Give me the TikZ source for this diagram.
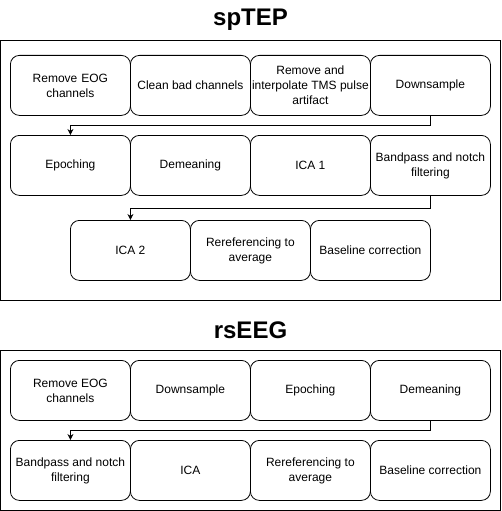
\documentclass[tikz,border=0pt]{standalone}
\usepackage{fontspec}
\setmainfont{Liberation Sans}
\usetikzlibrary{arrows.meta}
\begin{document}
\begin{tikzpicture}[x=1pt,y=-1pt,
  stepbox/.style={draw=black, line width=0.8pt, rounded corners=9pt, minimum width=120pt, minimum height=60pt, align=center, font=\fontsize{12}{15}\selectfont, inner sep=0pt, anchor=north west},
  frame/.style={draw=black, line width=0.8pt},
  title/.style={font=\fontsize{24}{28}\selectfont\bfseries},
  conn/.style={draw=black, line width=0.8pt, -{Stealth[length=6pt,width=6pt]}}
]
\useasboundingbox (0,0) rectangle (501,511);
% spTEP
\node[title] (t1) at (250.5,20) {spTEP};
\draw[frame] (0.5,40.5) rectangle (500.5,300.5);
\node[stepbox, text width=120pt, minimum width=120pt] (a1) at (10,55) {Remove EOG\\channels};
\node[stepbox] (a2) at (130,55) {Clean bad channels};
\node[stepbox] (a3) at (250,55) {Remove and\\interpolate TMS pulse\\artifact};
\node[stepbox] (a4) at (370,55) {Downsample};
\node[stepbox] (b1) at (10,135) {Epoching};
\node[stepbox] (b2) at (130,135) {Demeaning};
\node[stepbox] (b3) at (250,135) {ICA 1};
\node[stepbox] (b4) at (370,135) {Bandpass and notch\\filtering};
\node[stepbox] (c1) at (70,220) {ICA 2};
\node[stepbox] (c2) at (190,220) {Rereferencing to\\average};
\node[stepbox] (c3) at (310,220) {Baseline correction};
\draw[conn] (a4.south) -- ++(0,10) -| (b1.north);
\draw[conn] (b4.south) -- ++(0,13) -| (c1.north);
% rsEEG
\node[title] (t2) at (250.5,330) {rsEEG};
\draw[frame] (0.5,350.5) rectangle (500.5,510.5);
\node[stepbox] (d1) at (10,360) {Remove EOG\\channels};
\node[stepbox] (d2) at (130,360) {Downsample};
\node[stepbox] (d3) at (250,360) {Epoching};
\node[stepbox] (d4) at (370,360) {Demeaning};
\node[stepbox] (e1) at (10,440) {Bandpass and notch\\filtering};
\node[stepbox] (e2) at (130,440) {ICA};
\node[stepbox] (e3) at (250,440) {Rereferencing to\\average};
\node[stepbox] (e4) at (370,440) {Baseline correction};
\draw[conn] (d4.south) -- ++(0,10) -| (e1.north);
\end{tikzpicture}
\end{document}
